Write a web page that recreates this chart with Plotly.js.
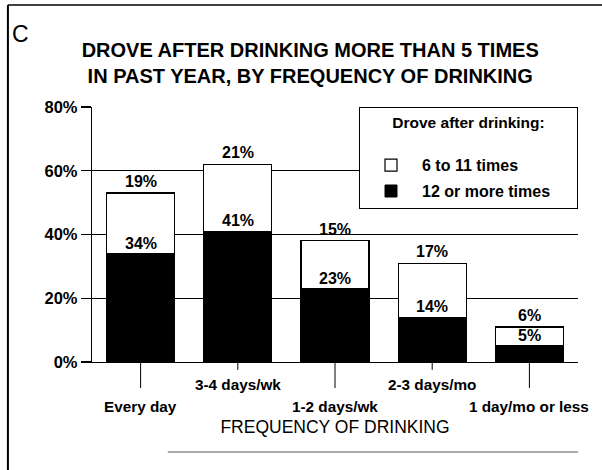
<!DOCTYPE html>
<html>
<head>
<meta charset="utf-8">
<script src="https://cdn.plot.ly/plotly-3.0.1.min.js"></script>
<style>
  html, body { margin: 0; padding: 0; background: #fff; }
  #chart { width: 602px; height: 470px; }
</style>
</head>
<body>
<div id="chart"></div>
<script>
// ---- data ----
var categories = ["Every day", "3-4 days/wk", "1-2 days/wk", "2-3 days/mo", "1 day/mo or less"];
var twelveOrMore = [34, 41, 23, 14, 5];   // black segment
var sixToEleven = [19, 21, 15, 17, 6];    // white segment
var seriesNames = ["12 or more times", "6 to 11 times"];
var yTickVals = [0, 20, 40, 60, 80];
var yTickText = ["0%", "20%", "40%", "60%", "80%"];
var labelLow = [true, false, true, false, true]; // staggered category labels

var FONT = "Arial, 'Liberation Sans', sans-serif";

var traces = [
  {
    type: "bar", name: seriesNames[0], x: categories, y: twelveOrMore,
    marker: { color: "#000", line: { color: "#000", width: 1 } },
    legendgroup: "b", legendrank: 2, hoverinfo: "skip"
  },
  {
    type: "bar", name: seriesNames[1], x: categories, y: sixToEleven,
    marker: { color: "#fff", line: { color: "#000", width: 1.2 } },
    legendgroup: "a", legendrank: 1, hoverinfo: "skip"
  }
];

var annotations = [];
var shapes = [];
categories.forEach(function (c, i) {
  var total = twelveOrMore[i] + sixToEleven[i];
  annotations.push({
    x: c, y: twelveOrMore[i], xref: "x", yref: "y", yanchor: "bottom",
    text: twelveOrMore[i] + "%", showarrow: false, yshift: 0,
    font: { family: FONT, size: 16, weight: "bold", color: "#000" }
  });
  annotations.push({
    x: c, y: total, xref: "x", yref: "y", yanchor: "bottom",
    text: sixToEleven[i] + "%", showarrow: false, yshift: 1,
    font: { family: FONT, size: 16, weight: "bold", color: "#000" }
  });
  // staggered category labels
  annotations.push({
    x: c, xref: "x", yref: "paper", y: labelLow[i] ? -0.176 : -0.09,
    yanchor: "middle", text: c, showarrow: false,
    font: { family: FONT, size: 15.3, weight: "bold", color: "#000" }
  });
  // category tick lines
  shapes.push({
    type: "line", xref: "x", yref: "paper", x0: c, x1: c,
    y0: 0, y1: labelLow[i] ? -0.102 : -0.031,
    line: { color: "#000", width: 1 }
  });
});

// panel letter
annotations.push({
  x: -0.168, y: 1.345, xref: "paper", yref: "paper", xanchor: "left", yanchor: "top",
  text: "C", showarrow: false, font: { family: FONT, size: 23, color: "#000" }
});

// outer frame (partial, as in the scan)
shapes.push({ type: "line", xref: "paper", yref: "paper", x0: -0.173, x1: -0.173, y0: 1.40, y1: -0.43, line: { color: "#000", width: 2 } });
shapes.push({ type: "line", xref: "paper", yref: "paper", x0: -0.173, x1: 1.05, y0: 1.40, y1: 1.40, line: { color: "#000", width: 1.5 } });
shapes.push({ type: "line", xref: "paper", yref: "paper", x0: 0.156, x1: 1.0, y0: -0.353, y1: -0.353, line: { color: "#555", width: 1.2 } });

var NB = "\u00a0\u00a0\u00a0\u00a0\u00a0\u00a0\u00a0";

var layout = {
  width: 602, height: 470,
  margin: { l: 92, r: 24, t: 107, b: 108 },
  paper_bgcolor: "#fff", plot_bgcolor: "#fff",
  barmode: "stack", bargap: 0.30,
  font: { family: FONT, color: "#000" },
  title: {
    text: "DROVE AFTER DRINKING MORE THAN 5 TIMES<br>IN PAST YEAR, BY FREQUENCY OF DRINKING",
    x: 0.449, xref: "paper", xanchor: "center",
    y: 0.879, yref: "container", yanchor: "top",
    font: { family: FONT, size: 20, weight: "bold", color: "#000" }
  },
  xaxis: {
    type: "category", range: [-0.5, 4.5], fixedrange: true,
    showticklabels: false, ticks: "", showgrid: false,
    showline: true, linecolor: "#000", linewidth: 1.2, zeroline: false,
    title: { text: "FREQUENCY OF DRINKING", standoff: 58,
             font: { family: FONT, size: 17.5, color: "#000" } }
  },
  yaxis: {
    range: [0, 80], tickmode: "array", tickvals: yTickVals, ticktext: yTickText, fixedrange: true,
    ticks: "outside", ticklen: 10, tickcolor: "#000", tickwidth: 1.2,
    showline: true, linecolor: "#000", linewidth: 1.2,
    showgrid: true, gridcolor: "#000", gridwidth: 1, zeroline: false,
    tickfont: { family: FONT, size: 16.5, weight: "bold", color: "#000" }
  },
  legend: {
    x: 1, xanchor: "right", y: 1, yanchor: "top",
    bgcolor: "#fff", bordercolor: "#000", borderwidth: 1,
    traceorder: "grouped", tracegroupgap: 2,
    itemwidth: 52,
    font: { family: FONT, size: 16, weight: "bold", color: "#000" },
    title: { text: NB + "Drove after drinking:" + NB + "<br>\u00a0", side: "top center",
             font: { family: FONT, size: 15.5, weight: "bold", color: "#000" } }
  },
  annotations: annotations,
  shapes: shapes,
  hovermode: false
};

Plotly.newPlot("chart", traces, layout, { staticPlot: true, displayModeBar: false });
</script>
</body>
</html>
